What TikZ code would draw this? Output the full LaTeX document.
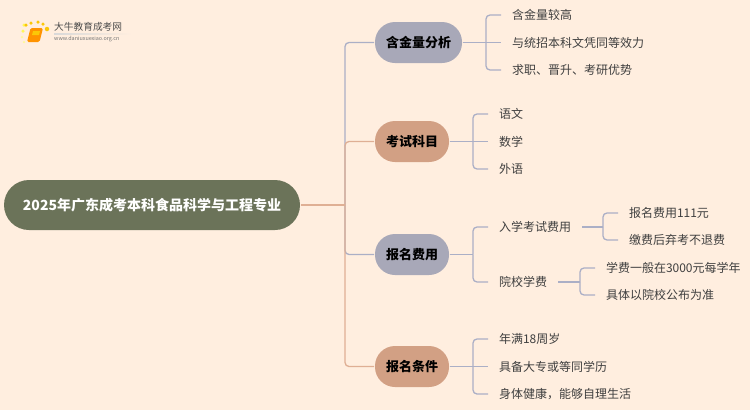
\documentclass[tikz,border=0pt]{standalone}
\usepackage{fontspec}
\setmainfont{Noto Sans CJK SC}
\definecolor{paper}{HTML}{FFEEDF}
\definecolor{olive}{HTML}{6B7359}
\definecolor{lavender}{HTML}{A8A8B8}
\definecolor{clay}{HTML}{D2A084}
\definecolor{blueline}{HTML}{ABAFC6}
\definecolor{clayline}{HTML}{DFAF94}
\definecolor{inktext}{HTML}{3F3F3F}
\tikzset{
    rootnode/.style={fill=olive,text=white,font=\fontsize{14}{16}\selectfont\bfseries,minimum width=296,minimum height=50,rounded corners=25,inner sep=0,outer sep=1},
    branchnode/.style={text=black,font=\fontsize{13}{15}\selectfont\bfseries,minimum height=41,rounded corners=20,inner sep=0,outer sep=1},
    leafnode/.style={anchor=west,text=inktext,font=\fontsize{12}{14}\selectfont,inner xsep=11,inner ysep=0,outer sep=0},
    blue link/.style={draw=blueline,line width=1.3,rounded corners=4},
    clay link/.style={draw=clayline,line width=1.3,rounded corners=4},
    logodot/.style={circle,fill=#1,inner sep=0,minimum size=3.5},
}
\begin{document}
\begin{tikzpicture}[x=1pt,y=-1pt]
    \fill[paper] (0,0) rectangle (750,410);
    \useasboundingbox (0,0) rectangle (750,410);

    \node[logodot=yellow!65!white] (dota) at (24,25) {};
    \node[logodot=yellow!65!white] (dotb) at (23,31) {};
    \node[logodot=yellow!60!orange] (dotc) at (26,25) {};
    \node[logodot=yellow!60!orange] (dotd) at (31,23) {};
    \node[logodot=yellow!60!orange] (dote) at (38,22) {};
    \node[logodot=yellow!60!orange] (dotf) at (43,24) {};
    \node[logodot=yellow!60!orange,minimum size=4.5] (dotg) at (47,29) {};
    \node[logodot=yellow!40!white,minimum size=2.5] (doth) at (22,37) {};
    \node[logodot=yellow!40!white,minimum size=2.5] (doti) at (24,42) {};
    \fill[orange!85!yellow,rounded corners=1.5] (30.5,28) -- (43,28) -- (39.5,42) -- (27,42) -- cycle;
    \fill[yellow!60!orange] (33,31) -- (40,31) -- (39,35) -- (32,35) -- cycle;
    \shade[left color=gray!30,right color=paper] (54,33) rectangle (132,34);
    \node[text=black!70,font=\fontsize{9.7}{11}\selectfont,inner sep=0,anchor=west] (logotitle) at (54,27) {大牛教育成考网};
    \node[text=black!55,font=\fontsize{5.4}{6}\selectfont,inner sep=0,anchor=west] (logourl) at (54,39) {www.daniuxuexiao.org.cn};

    \node[rootnode] (root) at (152,205) {2025年广东成考本科食品科学与工程专业};
    \node[branchnode,fill=lavender,minimum width=87] (hanjin) at (418.5,42.5) {含金量分析};
    \node[branchnode,fill=clay,minimum width=74] (kemu) at (412,141.5) {考试科目};
    \node[branchnode,fill=lavender,minimum width=74] (feiyong) at (412,254.5) {报名费用};
    \node[branchnode,fill=clay,minimum width=74] (tiaojian) at (412,366.5) {报名条件};

    \node[leafnode] (gaohan) at (501,15) {含金量较高};
    \node[leafnode] (tongdeng) at (501,42.5) {与统招本科文凭同等效力};
    \node[leafnode] (qiuzhi) at (501,70) {求职、晋升、考研优势};

    \node[leafnode] (yuwen) at (488,114) {语文};
    \node[leafnode] (shuxue) at (488,141.5) {数学};
    \node[leafnode] (waiyu) at (488,169) {外语};

    \node[leafnode] (ruxue) at (488,227) {入学考试费用};
    \node[leafnode] (yuanxiao) at (488,282) {院校学费};
    \node[leafnode] (baoming) at (618,213) {报名费用111元};
    \node[leafnode] (jiaofei) at (618,240) {缴费后弃考不退费};
    \node[leafnode] (xuefei) at (595,268) {学费一般在3000元每学年};
    \node[leafnode] (juti) at (595,295) {具体以院校公布为准};

    \node[leafnode] (nianman) at (488,339) {年满18周岁};
    \node[leafnode] (juzhuan) at (488,366.5) {具备大专或等同学历};
    \node[leafnode] (shenti) at (488,394) {身体健康，能够自理生活};

    \coordinate (rootfork) at (345,205);
    \coordinate (hanjinfork) at (486,42.5);
    \coordinate (kemufork) at (473,141.5);
    \coordinate (feiyongfork) at (473,254.5);
    \coordinate (tiaojianfork) at (473,366.5);
    \coordinate (ruxuefork) at (603,227);
    \coordinate (yuanxiaofork) at (580,282);

    \draw[blue link] (rootfork) |- (hanjin);
    \draw[blue link] (rootfork) |- (feiyong);
    \draw[clay link] (root) -- (rootfork);
    \draw[clay link] (rootfork) |- (kemu);
    \draw[clay link] (rootfork) |- (tiaojian);

    \draw[blue link] (hanjin) -- (tongdeng);
    \draw[blue link] (hanjinfork) |- (gaohan);
    \draw[blue link] (hanjinfork) |- (qiuzhi);

    \draw[blue link] (kemu) -- (shuxue);
    \draw[blue link] (kemufork) |- (yuwen);
    \draw[blue link] (kemufork) |- (waiyu);

    \draw[blue link] (feiyong) -- (feiyongfork);
    \draw[blue link] (feiyongfork) |- (ruxue);
    \draw[blue link] (feiyongfork) |- (yuanxiao);

    \draw[blue link] (ruxue) -- (ruxuefork);
    \draw[blue link] (ruxuefork) |- (baoming);
    \draw[blue link] (ruxuefork) |- (jiaofei);

    \draw[blue link] (yuanxiao) -- (yuanxiaofork);
    \draw[blue link] (yuanxiaofork) |- (xuefei);
    \draw[blue link] (yuanxiaofork) |- (juti);

    \draw[blue link] (tiaojian) -- (juzhuan);
    \draw[blue link] (tiaojianfork) |- (nianman);
    \draw[blue link] (tiaojianfork) |- (shenti);
\end{tikzpicture}
\end{document}
